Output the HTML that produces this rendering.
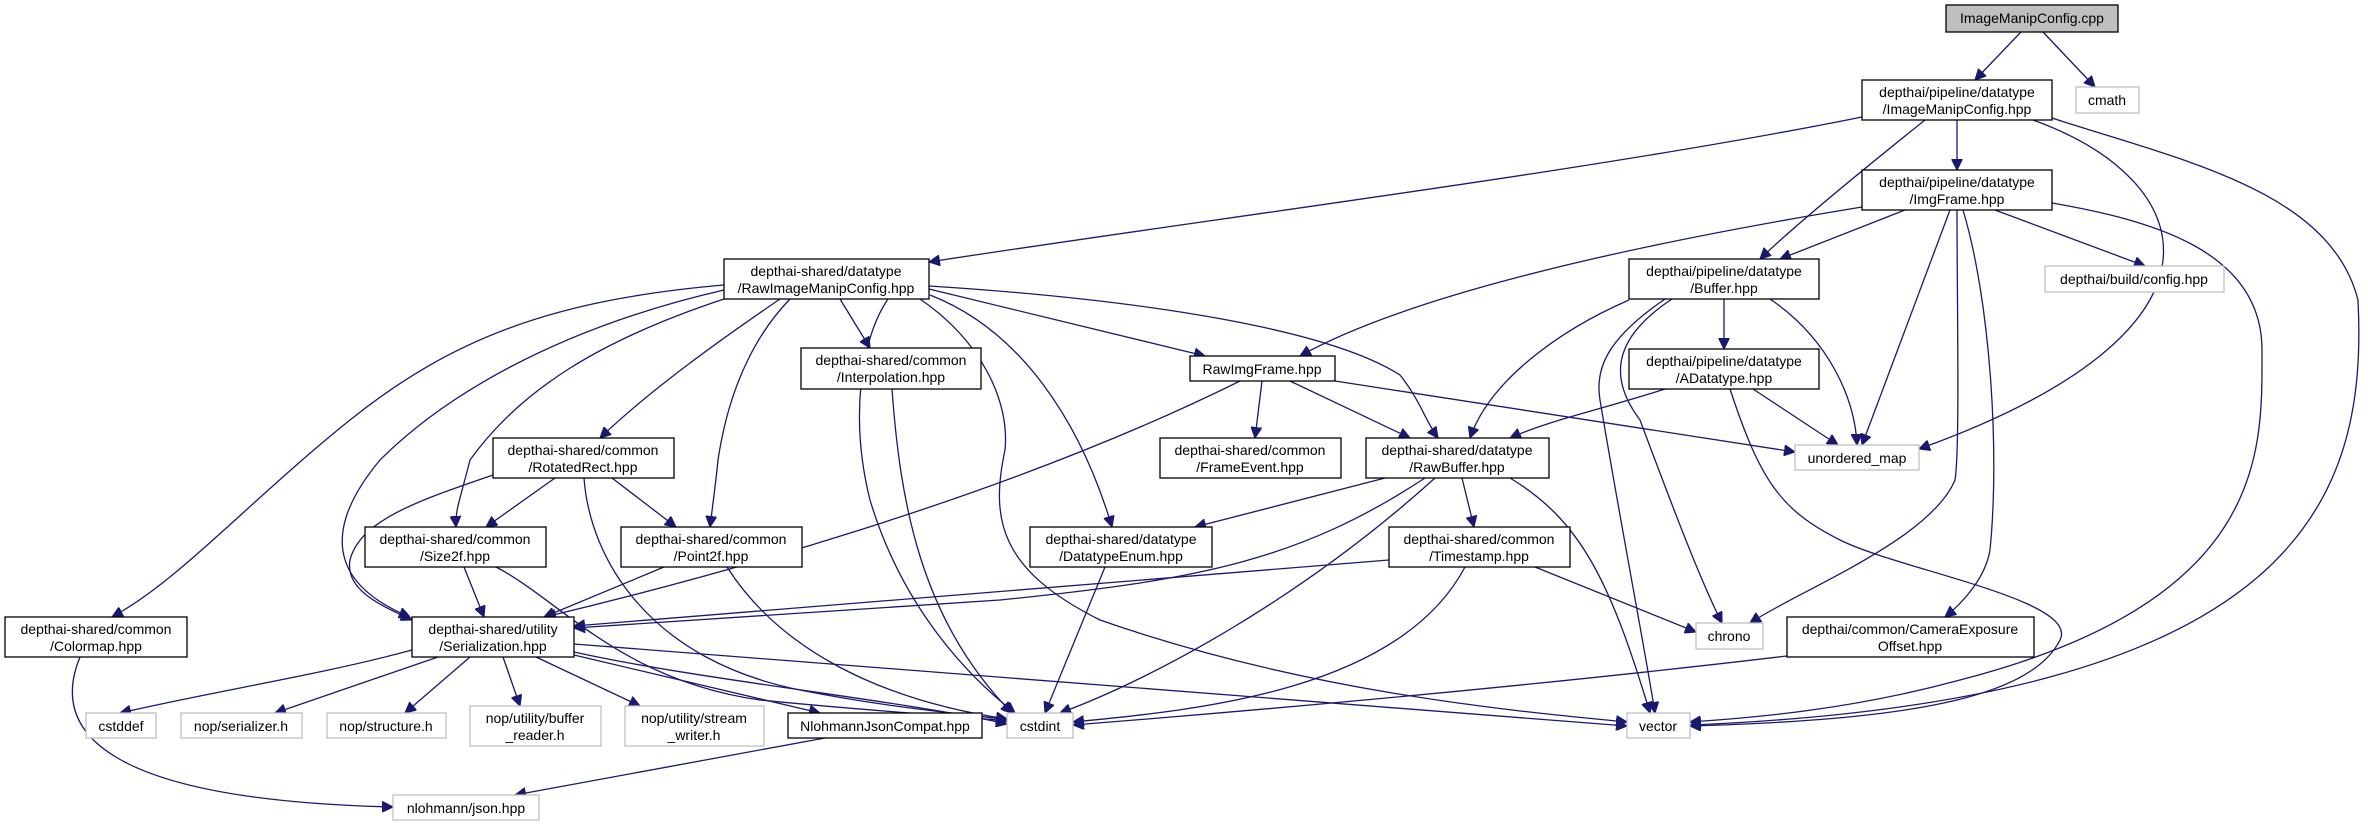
<!DOCTYPE html>
<html><head><meta charset="utf-8"><style>
html,body{margin:0;padding:0;background:#fff;}
svg{display:block;}
text{font-family:"Liberation Sans","DejaVu Sans",sans-serif;font-size:14px;fill:#000;}
.e{fill:none;stroke:#191970;stroke-width:1.3;}
.d{fill:#fff;stroke:#000;stroke-width:1.3;}
.x{fill:#fff;stroke:#bfbfbf;stroke-width:1.3;}
</style></head><body>
<svg width="2368" height="827" viewBox="0 0 2368 827" xmlns="http://www.w3.org/2000/svg">
<defs><marker id="a" viewBox="0 0 10 10" refX="10" refY="5" markerWidth="11" markerHeight="11" markerUnits="userSpaceOnUse" orient="auto"><path d="M0,0 L10,5 L0,10 z" fill="#191970" stroke="#191970"/></marker></defs>
<g class="e" marker-end="url(#a)">
<path d="M2021,32 L1975,80"/>
<path d="M2043,32 L2095,87"/>
<path d="M1862,117 C1600,170 1200,220 929,262"/>
<path d="M1957,120 L1957,170"/>
<path d="M1925,120 C1850,180 1790,230 1760,259"/>
<path d="M2033,120 C2200,180 2250,330 1919,449"/>
<path d="M2052,118 C2180,160 2330,190 2358,300 C2368,500 2300,700 1690,725"/>
<path d="M1862,207 C1600,250 1400,300 1300,356"/>
<path d="M1905,210 L1780,259"/>
<path d="M1995,210 L2145,266"/>
<path d="M1950,210 L1862,445"/>
<path d="M1957,210 C1957,300 1960,450 1955,480 C1930,540 1800,590 1750,623"/>
<path d="M1963,210 C1990,300 2000,450 1990,550 C1985,580 1960,605 1945,617"/>
<path d="M2052,203 C2150,220 2262,250 2262,350 C2262,450 2270,600 1960,680 C1850,710 1750,718 1690,722"/>
<path d="M1724,299 L1724,349"/>
<path d="M1629,300 C1560,330 1490,380 1470,438"/>
<path d="M1770,299 C1830,340 1855,400 1857,445"/>
<path d="M1672,299 C1610,340 1610,380 1640,420 C1670,500 1700,580 1722,623"/>
<path d="M1665,299 C1605,340 1595,370 1600,400 C1620,520 1645,650 1655,713"/>
<path d="M1665,389 C1600,410 1550,420 1510,438"/>
<path d="M1753,389 L1838,445"/>
<path d="M1730,389 C1760,480 1780,510 1840,540 C1900,570 2080,600 2060,640 C2030,700 1900,720 1690,726"/>
<path d="M724,285 C550,300 450,340 350,420 C250,500 180,580 112,617"/>
<path d="M724,290 C550,330 440,400 380,460 C330,520 320,580 410,617"/>
<path d="M780,299 C720,340 650,390 600,438"/>
<path d="M724,299 C600,340 520,390 470,460 C460,500 455,510 456,527"/>
<path d="M790,299 C760,330 730,380 718,460 C715,490 712,510 710,527"/>
<path d="M840,299 L870,348"/>
<path d="M929,289 L1205,356"/>
<path d="M929,286 C1150,300 1330,330 1400,375 C1420,400 1425,420 1438,438"/>
<path d="M930,295 C1020,330 1080,420 1112,527"/>
<path d="M888,299 C860,340 850,420 870,500 C900,600 960,670 1015,713"/>
<path d="M920,299 C980,340 1010,400 1005,450 C990,520 1000,570 1100,620 C1300,690 1500,710 1627,722"/>
<path d="M1262,381 L1255,438"/>
<path d="M1290,381 L1410,438"/>
<path d="M1240,381 C1000,500 700,580 545,617"/>
<path d="M1335,381 L1795,452"/>
<path d="M892,389 C900,500 920,620 1012,713"/>
<path d="M555,478 L486,527"/>
<path d="M612,478 L676,527"/>
<path d="M493,475 C420,500 360,520 350,560 C345,590 380,605 412,620"/>
<path d="M584,478 C590,560 650,660 800,690 C900,710 980,715 1007,720"/>
<path d="M464,567 L484,617"/>
<path d="M496,567 C560,600 620,680 760,700 C880,712 960,716 1007,721"/>
<path d="M664,567 L544,617"/>
<path d="M727,567 C780,650 880,700 1007,719"/>
<path d="M1385,478 L1195,527"/>
<path d="M1462,478 L1474,527"/>
<path d="M1425,478 C1300,560 1200,580 1000,600 L574,628"/>
<path d="M1435,478 C1300,600 1150,680 1060,713"/>
<path d="M1510,478 C1580,520 1610,580 1650,713"/>
<path d="M1105,567 L1045,713"/>
<path d="M1389,560 L574,626"/>
<path d="M1535,567 L1696,632"/>
<path d="M1465,567 C1400,690 1200,710 1073,722"/>
<path d="M412,650 C320,675 220,690 120,713"/>
<path d="M438,657 L275,713"/>
<path d="M470,657 L405,713"/>
<path d="M503,657 L520,706"/>
<path d="M536,657 L640,706"/>
<path d="M574,655 L820,713"/>
<path d="M574,652 C700,680 900,700 1007,724"/>
<path d="M574,644 L1627,726"/>
<path d="M80,657 C50,730 100,800 393,807"/>
<path d="M825,738 L515,795"/>
<path d="M1787,656 C1500,690 1200,715 1073,725"/>
</g>
<g>
<rect x="1946" y="5" width="172" height="27" fill="#bfbfbf" stroke="#000" stroke-width="1.3"/>
<text x="2032" y="23" text-anchor="middle">ImageManipConfig.cpp</text>
<rect class="d" x="1862" y="80" width="190" height="40"/><text x="1957" y="97" text-anchor="middle">depthai/pipeline/datatype</text><text x="1957" y="114" text-anchor="middle">/ImageManipConfig.hpp</text>
<rect class="x" x="2076" y="87" width="63" height="26"/><text x="2107" y="105" text-anchor="middle">cmath</text>
<rect class="d" x="1862" y="170" width="190" height="40"/><text x="1957" y="187" text-anchor="middle">depthai/pipeline/datatype</text><text x="1957" y="204" text-anchor="middle">/ImgFrame.hpp</text>
<rect class="d" x="1629" y="259" width="190" height="40"/><text x="1724" y="276" text-anchor="middle">depthai/pipeline/datatype</text><text x="1724" y="293" text-anchor="middle">/Buffer.hpp</text>
<rect class="d" x="1629" y="349" width="190" height="40"/><text x="1724" y="366" text-anchor="middle">depthai/pipeline/datatype</text><text x="1724" y="383" text-anchor="middle">/ADatatype.hpp</text>
<rect class="x" x="2045" y="266" width="179" height="26"/><text x="2134" y="284" text-anchor="middle">depthai/build/config.hpp</text>
<rect class="x" x="1795" y="445" width="124" height="25"/><text x="1857" y="463" text-anchor="middle">unordered_map</text>
<rect class="x" x="1696" y="623" width="67" height="26"/><text x="1729" y="641" text-anchor="middle">chrono</text>
<rect class="d" x="1787" y="617" width="247" height="40"/><text x="1910" y="634" text-anchor="middle">depthai/common/CameraExposure</text><text x="1910" y="651" text-anchor="middle">Offset.hpp</text>
<rect class="x" x="1627" y="713" width="63" height="25"/><text x="1658" y="731" text-anchor="middle">vector</text>
<rect class="d" x="724" y="259" width="205" height="40"/><text x="826" y="276" text-anchor="middle">depthai-shared/datatype</text><text x="826" y="293" text-anchor="middle">/RawImageManipConfig.hpp</text>
<rect class="d" x="801" y="348" width="180" height="41"/><text x="891" y="365" text-anchor="middle">depthai-shared/common</text><text x="891" y="382" text-anchor="middle">/Interpolation.hpp</text>
<rect class="d" x="1190" y="356" width="145" height="25"/><text x="1262" y="374" text-anchor="middle">RawImgFrame.hpp</text>
<rect class="d" x="1160" y="438" width="181" height="40"/><text x="1250" y="455" text-anchor="middle">depthai-shared/common</text><text x="1250" y="472" text-anchor="middle">/FrameEvent.hpp</text>
<rect class="d" x="1366" y="438" width="183" height="40"/><text x="1457" y="455" text-anchor="middle">depthai-shared/datatype</text><text x="1457" y="472" text-anchor="middle">/RawBuffer.hpp</text>
<rect class="d" x="493" y="438" width="181" height="40"/><text x="583" y="455" text-anchor="middle">depthai-shared/common</text><text x="583" y="472" text-anchor="middle">/RotatedRect.hpp</text>
<rect class="d" x="365" y="527" width="181" height="40"/><text x="455" y="544" text-anchor="middle">depthai-shared/common</text><text x="455" y="561" text-anchor="middle">/Size2f.hpp</text>
<rect class="d" x="621" y="527" width="181" height="40"/><text x="711" y="544" text-anchor="middle">depthai-shared/common</text><text x="711" y="561" text-anchor="middle">/Point2f.hpp</text>
<rect class="d" x="1030" y="527" width="182" height="40"/><text x="1121" y="544" text-anchor="middle">depthai-shared/datatype</text><text x="1121" y="561" text-anchor="middle">/DatatypeEnum.hpp</text>
<rect class="d" x="1389" y="527" width="181" height="40"/><text x="1479" y="544" text-anchor="middle">depthai-shared/common</text><text x="1479" y="561" text-anchor="middle">/Timestamp.hpp</text>
<rect class="d" x="5" y="617" width="182" height="40"/><text x="96" y="634" text-anchor="middle">depthai-shared/common</text><text x="96" y="651" text-anchor="middle">/Colormap.hpp</text>
<rect class="d" x="412" y="617" width="162" height="40"/><text x="493" y="634" text-anchor="middle">depthai-shared/utility</text><text x="493" y="651" text-anchor="middle">/Serialization.hpp</text>
<rect class="x" x="86" y="713" width="70" height="25"/><text x="121" y="731" text-anchor="middle">cstddef</text>
<rect class="x" x="181" y="713" width="121" height="25"/><text x="241" y="731" text-anchor="middle">nop/serializer.h</text>
<rect class="x" x="327" y="713" width="119" height="25"/><text x="386" y="731" text-anchor="middle">nop/structure.h</text>
<rect class="x" x="470" y="706" width="131" height="40"/><text x="535" y="723" text-anchor="middle">nop/utility/buffer</text><text x="535" y="740" text-anchor="middle">_reader.h</text>
<rect class="x" x="625" y="706" width="139" height="40"/><text x="694" y="723" text-anchor="middle">nop/utility/stream</text><text x="694" y="740" text-anchor="middle">_writer.h</text>
<rect class="d" x="788" y="713" width="194" height="25"/><text x="885" y="731" text-anchor="middle">NlohmannJsonCompat.hpp</text>
<rect class="x" x="1007" y="713" width="66" height="25"/><text x="1040" y="731" text-anchor="middle">cstdint</text>
<rect class="x" x="393" y="795" width="146" height="25"/><text x="466" y="813" text-anchor="middle">nlohmann/json.hpp</text>
</g>
</svg>
</body></html>
